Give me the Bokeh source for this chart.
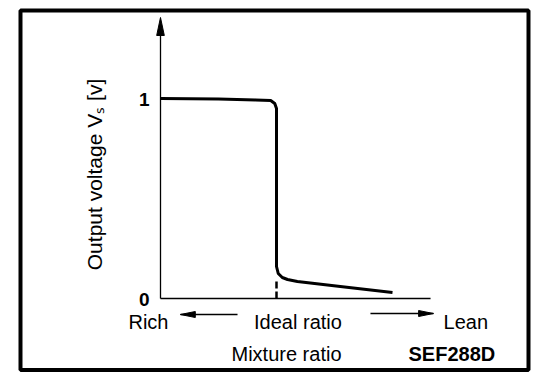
import math
from bokeh.plotting import figure
from bokeh.models import Range1d
from bokeh.core.properties import value
from bokeh.embed import file_html
from bokeh.resources import INLINE

# ---- data (mixture ratio: ideal ratio = 1.0; output voltage in V) ----
curve_x = [0.0, 0.5, 0.82, 0.95, 0.985, 1.0, 1.0, 1.015, 1.05, 1.095, 1.18, 1.55, 2.0]
curve_y = [1.0, 0.997, 0.993, 0.99, 0.975, 0.95, 0.16, 0.125, 0.105, 0.095, 0.085, 0.06, 0.03]
ideal_x = 1.0
y_ticks = [0, 1]
y_tick_labels = ["0", "1"]
x_labels = ["Rich", "Ideal ratio", "Lean"]
x_label_pos = [-0.276, 1.185, 2.44]
x_label_align = ["left", "center", "left"]
y_title = "Output voltage V\u209b [v]"
x_title = "Mixture ratio"
code_text = "SEF288D"

# ---- layout / style ----
FONT = value("Liberation Sans")
x_axis_end = 2.328
y_axis_end = 1.405

p = figure(width=552, height=374,
           x_range=Range1d(-1.37931, 3.37931), y_range=Range1d(-0.38, 1.49),
           output_backend="svg", toolbar_location=None,
           x_axis_location=None, y_axis_location=None, min_border=0)
p.xgrid.visible = False
p.ygrid.visible = False
p.outline_line_color = None
p.background_fill_color = "white"
p.border_fill_color = "white"

# outer border
p.quad(left=[-1.2069], right=[3.1724], top=[1.44], bottom=[-0.3575],
       fill_color=None, line_color="black", line_width=4)

# axes
p.line([0, x_axis_end], [0, 0], line_color="black", line_width=1.3)
p.line([0, 0], [0, y_axis_end - 0.05], line_color="black", line_width=1.3)
p.patch([0, -0.033, 0.033], [y_axis_end, y_axis_end - 0.09, y_axis_end - 0.09],
        fill_color="black", line_color="black", line_width=1)

# y tick labels
p.text(x=[-0.095] * len(y_ticks), y=y_ticks, text=y_tick_labels,
       text_font=FONT, text_font_style="bold", text_font_size="19px",
       text_align="right", text_baseline="alphabetic", y_offset=1, text_color="black")

# y axis title (rotated)
p.text(x=[-0.565], y=[0.62], text=[y_title], angle=math.pi / 2,
       text_font=FONT, text_font_size="21px",
       text_align="center", text_baseline="alphabetic", text_color="black")

# curve
p.line(curve_x, curve_y, line_color="black", line_width=3, line_join="round")

# ideal ratio dashed marker
p.line([ideal_x, ideal_x], [0, curve_y[-4]], line_color="black", line_width=2.5,
       line_dash="7 3")

# x labels
p.text(x=x_label_pos, y=[-0.115] * 3, text=x_labels, text_align=x_label_align,
       text_font=FONT, text_font_size="20px", text_baseline="alphabetic", text_color="black")

# direction arrows
p.line([0.172, 0.664], [-0.08, -0.08], line_color="black", line_width=1.5)
p.patch([0.172, 0.30, 0.30], [-0.08, -0.095, -0.065], fill_color="black", line_color="black")
p.line([1.81, 2.353], [-0.075, -0.075], line_color="black", line_width=1.5)
p.patch([2.353, 2.225, 2.225], [-0.075, -0.09, -0.06], fill_color="black", line_color="black")

# bottom titles
p.text(x=[0.612], y=[-0.275], text=[x_title], text_align="left",
       text_font=FONT, text_font_size="20px", text_baseline="alphabetic", text_color="black")
p.text(x=[2.138], y=[-0.275], text=[code_text], text_align="left",
       text_font=FONT, text_font_size="20px", text_font_style="bold",
       text_baseline="alphabetic", text_color="black")

open("out.html", "w").write(file_html(p, INLINE))
